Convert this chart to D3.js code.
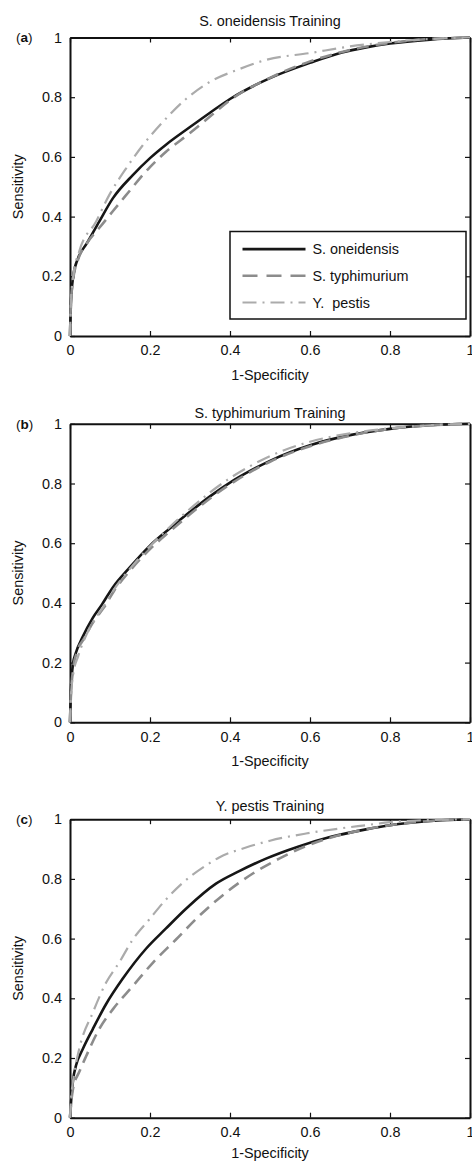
<!DOCTYPE html>
<html>
<head>
<meta charset="utf-8">
<script src="https://cdnjs.cloudflare.com/ajax/libs/d3/7.8.5/d3.min.js"></script>
<style>
    body { margin: 0; background: #fff; }
    svg { display: block; }
    text { font-family: "Liberation Sans", Arial, sans-serif; fill: #111; }
</style>
</head>
<body>
<div id="chart"></div>
<script>

// ---- data: ROC points [1-specificity, sensitivity] ----

// (a) S. oneidensis training
const aOneidensis = [[0,0],[0.002,0.1],[0.008,0.2],[0.02,0.26],[0.042,0.31],[0.073,0.383],[0.107,0.461],[0.157,0.539],[0.2,0.596],[0.24,0.641],[0.3,0.7],[0.35,0.748],[0.4,0.794],[0.5,0.864],[0.6,0.915],[0.68,0.95],[0.74,0.967],[0.8,0.98],[0.9,0.993],[1,1]];
const aTyphimurium = [[0,0],[0.002,0.1],[0.008,0.19],[0.02,0.255],[0.042,0.31],[0.075,0.365],[0.107,0.418],[0.136,0.465],[0.2,0.566],[0.24,0.617],[0.3,0.68],[0.35,0.735],[0.4,0.79],[0.5,0.865],[0.6,0.92],[0.7,0.958],[0.8,0.982],[0.9,0.995],[1,1]];
const aPestis = [[0,0],[0.002,0.1],[0.008,0.2],[0.023,0.283],[0.065,0.383],[0.098,0.472],[0.14,0.561],[0.182,0.639],[0.232,0.717],[0.29,0.794],[0.348,0.85],[0.423,0.894],[0.49,0.925],[0.6,0.948],[0.7,0.97],[0.8,0.985],[0.9,0.995],[1,1]];

// (b) S. typhimurium training
const bOneidensis = [[0,0],[0.002,0.1],[0.008,0.2],[0.014,0.23],[0.032,0.287],[0.057,0.35],[0.08,0.395],[0.107,0.452],[0.15,0.52],[0.2,0.592],[0.25,0.65],[0.3,0.705],[0.35,0.757],[0.4,0.803],[0.45,0.842],[0.5,0.876],[0.6,0.928],[0.7,0.962],[0.8,0.983],[0.9,0.995],[1,1]];
const bTyphimurium = [[0,0],[0.002,0.08],[0.008,0.18],[0.016,0.23],[0.035,0.28],[0.06,0.34],[0.085,0.385],[0.11,0.44],[0.15,0.508],[0.2,0.58],[0.25,0.64],[0.3,0.697],[0.35,0.75],[0.4,0.797],[0.45,0.838],[0.5,0.873],[0.6,0.925],[0.7,0.96],[0.8,0.983],[0.9,0.995],[1,1]];
const bPestis = [[0,0],[0.002,0.08],[0.008,0.16],[0.02,0.22],[0.035,0.275],[0.06,0.34],[0.085,0.39],[0.11,0.445],[0.15,0.515],[0.2,0.59],[0.25,0.655],[0.3,0.715],[0.35,0.77],[0.4,0.818],[0.45,0.858],[0.5,0.892],[0.6,0.94],[0.7,0.968],[0.8,0.985],[0.9,0.995],[1,1]];

// (c) Y. pestis training
const cOneidensis = [[0,0],[0.003,0.06],[0.008,0.13],[0.015,0.175],[0.032,0.23],[0.057,0.297],[0.09,0.38],[0.132,0.466],[0.19,0.566],[0.24,0.634],[0.29,0.7],[0.365,0.784],[0.423,0.826],[0.49,0.868],[0.57,0.908],[0.65,0.94],[0.74,0.966],[0.8,0.98],[0.9,0.994],[1,1]];
const cTyphimurium = [[0,0],[0.003,0.05],[0.008,0.1],[0.023,0.153],[0.04,0.205],[0.073,0.297],[0.107,0.363],[0.157,0.441],[0.207,0.519],[0.265,0.597],[0.323,0.676],[0.39,0.754],[0.457,0.818],[0.523,0.868],[0.59,0.91],[0.657,0.94],[0.74,0.966],[0.8,0.98],[0.9,0.994],[1,1]];
const cPestis = [[0,0],[0.003,0.07],[0.007,0.117],[0.023,0.23],[0.057,0.352],[0.09,0.452],[0.123,0.52],[0.157,0.597],[0.198,0.664],[0.24,0.731],[0.282,0.787],[0.34,0.845],[0.373,0.872],[0.44,0.905],[0.5,0.928],[0.59,0.952],[0.68,0.97],[0.74,0.98],[0.8,0.99],[0.9,0.997],[1,1]];

const seriesNames = ["S. oneidensis", "S. typhimurium", "Y. pestis"];
const panelTitles = ["S. oneidensis Training", "S. typhimurium Training", "Y. pestis Training"];
const panelLetters = ["a", "b", "c"];
const tickValues = [0, 0.2, 0.4, 0.6, 0.8, 1];

// line styles per series
const styles = [
    {stroke: "#161616", width: 2.6, dash: null},
    {stroke: "#8c8c8c", width: 2.6, dash: "12,7"},
    {stroke: "#ababab", width: 2.2, dash: "14,6,2,6"}
];


class RocPanel {

    constructor(svg, top, index, curves, showLegend) {
        this.svg = svg;
        this.top = top;
        this.index = index;
        this.curves = curves;
        this.showLegend = showLegend;

        this.initVis();
    }

    initVis() {
        let vis = this;

        vis.left = 70;
        vis.width = 400;
        vis.height = 298.5;

        vis.g = vis.svg.append("g")
            .attr("transform", `translate(${vis.left}, ${vis.top})`);

        vis.x = d3.scaleLinear().domain([0, 1]).range([0, vis.width]);
        vis.y = d3.scaleLinear().domain([0, 1]).range([vis.height, 0]);

        // axes, ticks pointing inward like matlab
        let fmt = d => d === 0 || d === 1 ? d3.format("d")(d) : d3.format(".1f")(d);

        vis.g.append("g")
            .attr("class", "axis")
            .attr("transform", `translate(0, ${vis.height})`)
            .call(d3.axisBottom(vis.x).tickValues(tickValues).tickFormat(fmt).tickSizeInner(-5).tickSizeOuter(0).tickPadding(9));

        vis.g.append("g")
            .attr("class", "axis")
            .call(d3.axisLeft(vis.y).tickValues(tickValues).tickFormat(fmt).tickSizeInner(-5).tickSizeOuter(0).tickPadding(8));

        vis.g.append("g")
            .attr("class", "axis")
            .call(d3.axisTop(vis.x).tickValues(tickValues).tickFormat("").tickSizeInner(-5).tickSizeOuter(0));

        vis.g.append("g")
            .attr("class", "axis")
            .attr("transform", `translate(${vis.width}, 0)`)
            .call(d3.axisRight(vis.y).tickValues(tickValues).tickFormat("").tickSizeInner(-5).tickSizeOuter(0));

        vis.g.selectAll(".axis path.domain")
            .attr("stroke", "#111")
            .attr("stroke-width", 2);
        vis.g.selectAll(".axis .tick line")
            .attr("stroke", "#111")
            .attr("stroke-width", 1.2);
        vis.g.selectAll(".axis text")
            .style("font-family", '"Liberation Sans", Arial, sans-serif')
            .style("font-size", "14.4px")
            .attr("fill", "#111");

        // title, axis labels, panel letter
        const titleBaselines = [-12, -6, -8.5];
        const xLabelBaselines = [44, 44, 40.5];

        vis.g.append("text")
            .attr("x", vis.width / 2)
            .attr("y", titleBaselines[vis.index])
            .attr("text-anchor", "middle")
            .style("font-size", "14.4px")
            .text(panelTitles[vis.index]);

        vis.g.append("text")
            .attr("x", vis.width / 2)
            .attr("y", vis.height + xLabelBaselines[vis.index])
            .attr("text-anchor", "middle")
            .style("font-size", "14.4px")
            .text("1-Specificity");

        vis.g.append("text")
            .attr("transform", `translate(${23 - vis.left}, ${vis.height / 2}) rotate(-90)`)
            .attr("text-anchor", "middle")
            .style("font-size", "14.4px")
            .text("Sensitivity");

        let lbl = vis.g.append("text")
            .attr("x", 16 - vis.left)
            .attr("y", 0)
            .attr("dy", "0.35em")
            .style("font-size", "13.5px");
        lbl.append("tspan").text("(");
        lbl.append("tspan").attr("font-weight", "bold").text(panelLetters[vis.index]);
        lbl.append("tspan").text(")");

        vis.updateVis();
    }

    updateVis() {
        let vis = this;

        let line = d3.line()
            .x(d => vis.x(d[0]))
            .y(d => vis.y(d[1]))
            .curve(d3.curveMonotoneX);

        // black first, gray dashes drawn over it as in the original
        let order = [0, 1, 2];
        vis.g.selectAll(".roc")
            .data(order.map(i => ({i: i, pts: vis.curves[i]})))
            .enter()
            .append("path")
            .attr("class", "roc")
            .attr("d", d => line(d.pts))
            .attr("fill", "none")
            .attr("stroke", d => styles[d.i].stroke)
            .attr("stroke-width", d => styles[d.i].width)
            .attr("stroke-dasharray", d => styles[d.i].dash)
            .attr("stroke-linejoin", "round");

        if (vis.showLegend) {
            let lw = 236, lh = 87.5;
            let lx = vis.width - 4 - lw;
            let ly = vis.height - 17 - lh;

            let leg = vis.g.append("g").attr("transform", `translate(${lx}, ${ly})`);
            leg.append("rect")
                .attr("width", lw)
                .attr("height", lh)
                .attr("fill", "#fff")
                .attr("stroke", "#111")
                .attr("stroke-width", 1.5);

            let rows = leg.selectAll(".row")
                .data(seriesNames)
                .enter()
                .append("g")
                .attr("class", "row")
                .attr("transform", (d, i) => `translate(0, ${17.6 + i * 26.7})`);

            rows.append("line")
                .attr("x1", 12.5)
                .attr("x2", 75.5)
                .attr("stroke", (d, i) => styles[i].stroke)
                .attr("stroke-width", (d, i) => styles[i].width)
                .attr("stroke-dasharray", (d, i) => i === 1 ? "15,9" : styles[i].dash);

            rows.append("text")
                .attr("x", 82.5)
                .attr("dy", "0.36em")
                .style("font-size", "14.4px")
                .text((d, i) => i === 2 ? "Y.  pestis" : d)
                .attr("xml:space", "preserve")
                .style("white-space", "pre");
        }
    }
}


const svg = d3.select("#chart").append("svg")
    .attr("width", 472)
    .attr("height", 1163);

const panelTops = [37.5, 423.8, 819.2];
const panelCurves = [
    [aOneidensis, aTyphimurium, aPestis],
    [bOneidensis, bTyphimurium, bPestis],
    [cOneidensis, cTyphimurium, cPestis]
];

panelCurves.forEach((curves, i) => {
    new RocPanel(svg, panelTops[i], i, curves, i === 0);
});

</script>
</body>
</html>
